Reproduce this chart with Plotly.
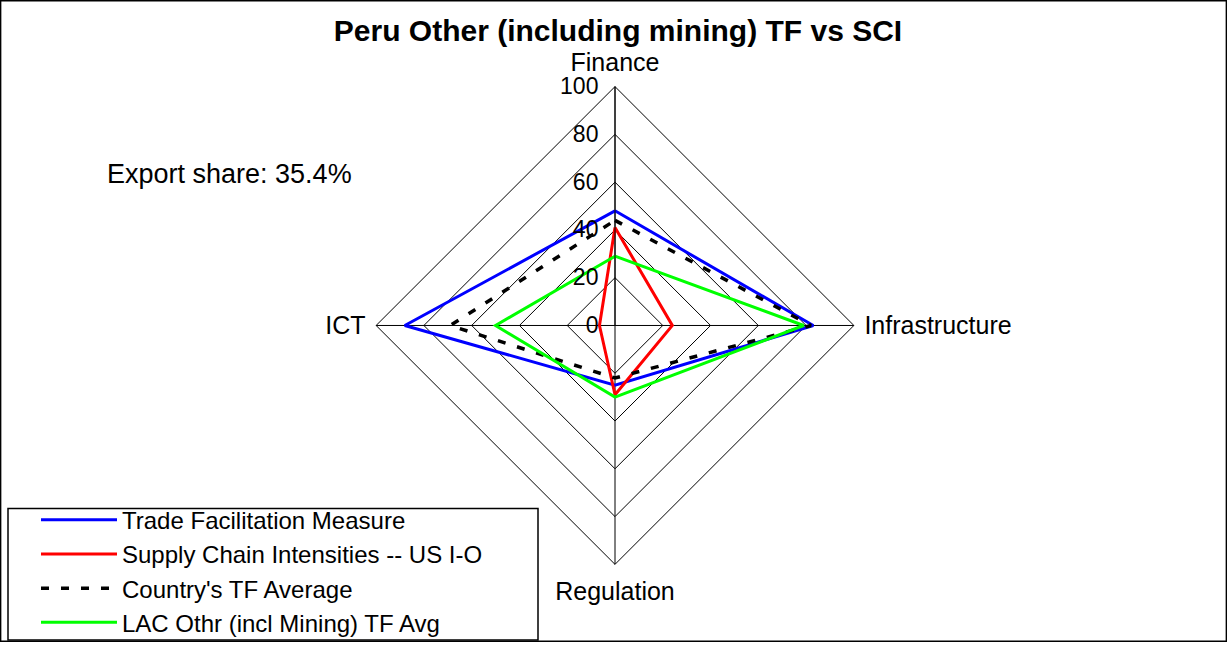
import plotly.graph_objects as go

# Radar axes (clockwise from top)
categories = ["Finance", "Infrastructure", "Regulation", "ICT"]

# Scores on a 0-100 scale
tf_measure = [48, 83, 25, 88]
supply_chain = [41, 24, 29, 6.5]
country_avg = [44, 82, 22, 69]
lac_avg = [29, 79, 30, 50]

radial_ticks = [0, 20, 40, 60, 80, 100]

FONT = "Liberation Sans, Arial, sans-serif"


def closed(vals):
    return list(vals) + [vals[0]]


cats_closed = closed(categories)

fig = go.Figure()
fig.add_trace(go.Scatterpolar(r=closed(tf_measure), theta=cats_closed, mode="lines",
                              name="Trade Facilitation Measure",
                              line=dict(color="#0000ff", width=3)))
fig.add_trace(go.Scatterpolar(r=closed(supply_chain), theta=cats_closed, mode="lines",
                              name="Supply Chain Intensities -- US I-O",
                              line=dict(color="#ff0000", width=3)))
fig.add_trace(go.Scatterpolar(r=closed(country_avg), theta=cats_closed, mode="lines",
                              name="Country's TF Average",
                              line=dict(color="#000000", width=3.5, dash="8px,12px")))
fig.add_trace(go.Scatterpolar(r=closed(lac_avg), theta=cats_closed, mode="lines",
                              name="LAC Othr (incl Mining) TF Avg",
                              line=dict(color="#00ff00", width=3)))

W, H = 1227, 645
cx, cy, R = 615, 327, 240

# legend frame (pixels)
LEG_L, LEG_R, LEG_T, LEG_B = 8, 538, 511, 643

fig.update_layout(
    width=W, height=H,
    margin=dict(l=0, r=0, t=0, b=0),
    paper_bgcolor="white",
    plot_bgcolor="white",
    font=dict(family=FONT, size=25, color="black"),
    title=dict(text="<b>Peru Other (including mining) TF vs SCI</b>",
               x=618 / W, xanchor="center", y=1 - 30 / H, yanchor="middle",
               font=dict(family=FONT, size=30, color="black")),
    polar=dict(
        domain=dict(x=[(cx - R) / W, (cx + R) / W],
                    y=[(H - cy - R) / H, (H - cy + R) / H]),
        bgcolor="white",
        gridshape="linear",
        radialaxis=dict(range=[0, 100], tickvals=radial_ticks,
                        angle=90, tickangle=90, side="counterclockwise",
                        showline=True, linecolor="black", linewidth=1,
                        gridcolor="black", gridwidth=1,
                        ticks="outside", ticklen=8, tickcolor="rgba(0,0,0,0)",
                        tickfont=dict(family=FONT, size=23, color="black")),
        angularaxis=dict(direction="clockwise", rotation=90,
                         showline=True, linecolor="black", linewidth=1,
                         gridcolor="black", gridwidth=1,
                         ticks="outside", ticklen=5, tickcolor="rgba(0,0,0,0)",
                         tickfont=dict(family=FONT, size=25, color="black")),
    ),
    legend=dict(x=36 / W, y=1 - 500 / H, xanchor="left", yanchor="top",
                borderwidth=0, bgcolor="rgba(0,0,0,0)",
                font=dict(family=FONT, size=24, color="black"),
                itemwidth=76, tracegroupgap=0),
    annotations=[dict(text="Export share: 35.4%", x=105 / W, y=1 - 175 / H,
                      xref="paper", yref="paper", xanchor="left", yanchor="middle",
                      showarrow=False, font=dict(family=FONT, size=27, color="black"))],
    shapes=[
        dict(type="rect", xref="paper", yref="paper", x0=0.0005, x1=0.9995,
             y0=0.001, y1=0.999, line=dict(color="black", width=1.5)),
        dict(type="rect", xref="paper", yref="paper", layer="below",
             x0=LEG_L / W, x1=LEG_R / W, y0=1 - LEG_B / H, y1=1 - LEG_T / H,
             line=dict(color="black", width=1.5), fillcolor="white"),
    ],
)

fig.write_html("out.html")
